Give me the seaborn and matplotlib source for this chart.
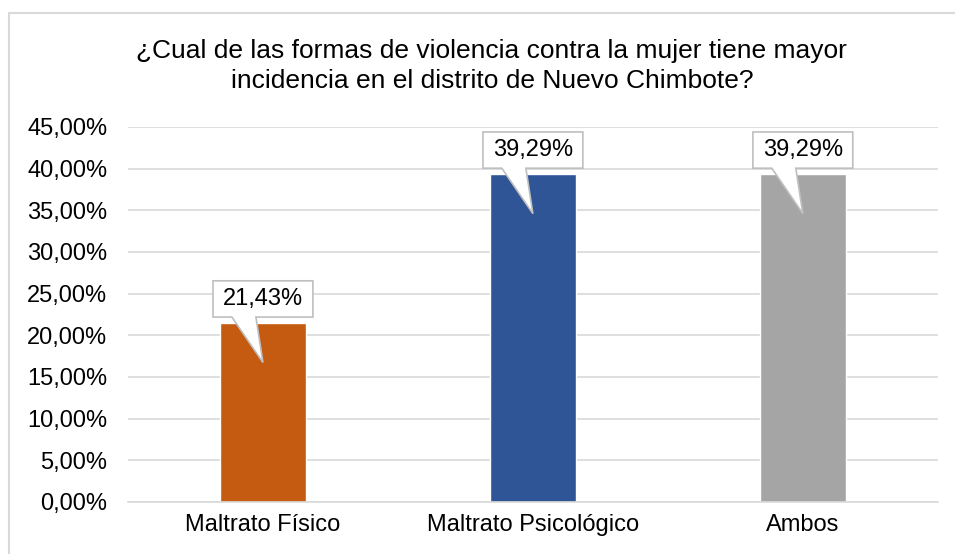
import matplotlib.pyplot as plt
import matplotlib.patches as mpatches
import numpy as np
import pandas as pd
import seaborn as sns
from matplotlib.ticker import FuncFormatter, MultipleLocator

categories = ["Maltrato Físico", "Maltrato Psicológico", "Ambos"]
values = [0.2143, 0.3929, 0.3929]
labels = ["21,43%", "39,29%", "39,29%"]
colors = ["#C55A11", "#2F5597", "#A5A5A5"]

title = "¿Cual de las formas de violencia contra la mujer tiene mayor\nincidencia en el distrito de Nuevo Chimbote?"

df = pd.DataFrame({"categoria": categories, "valor": values})

sns.set_theme(style="white")
plt.rcParams["font.family"] = ["Liberation Sans", "DejaVu Sans"]

fig = plt.figure(figsize=(9.55, 5.54), dpi=100)
ax = fig.add_axes([0.134, 0.094, 0.848, 0.677])

sns.barplot(
    data=df, x="categoria", y="valor", hue="categoria", palette=colors,
    width=0.318, legend=False, ax=ax, saturation=1,
)

ax.set_ylim(0, 0.45)
ax.set_xlim(-0.5, 2.5)
ax.yaxis.set_major_locator(MultipleLocator(0.05))
ax.yaxis.set_major_formatter(
    FuncFormatter(lambda v, _: f"{v * 100:.2f}%".replace(".", ","))
)
ax.grid(axis="y", color="#D9D9D9", linewidth=1.2)
ax.set_axisbelow(True)
for s in ["top", "right", "left"]:
    ax.spines[s].set_visible(False)
ax.spines["bottom"].set_color("#D9D9D9")
ax.spines["bottom"].set_linewidth(1.2)
ax.tick_params(axis="y", labelsize=17, colors="black", length=0, pad=15)
ax.tick_params(axis="x", labelsize=17, colors="black", length=0, pad=9)
ax.set(xlabel="", ylabel="")

# callouts
hw = 0.185
for i, (v, lab) in enumerate(zip(values, labels)):
    yb = v + 0.0075
    yt = v + 0.051
    tip = (i, v - 0.047)
    pts = [
        (i - hw, yb), (i - 0.115, yb), tip, (i - 0.026, yb),
        (i + hw, yb), (i + hw, yt), (i - hw, yt),
    ]
    poly = mpatches.Polygon(pts, closed=True, facecolor="white",
                            edgecolor="#BFBFBF", linewidth=1.2, zorder=5)
    ax.add_patch(poly)
    ax.text(i, (yb + yt) / 2, lab, ha="center", va="center",
            fontsize=17, color="black", zorder=6)

fig.text(0.515, 0.881, title, ha="center", va="center", fontsize=19,
         color="black", linespacing=1.35)

fig.patches.append(mpatches.Rectangle(
    (9 / 955, -0.1), 1.2, 1 - 13 / 554 + 0.1, transform=fig.transFigure,
    fill=False, edgecolor="#D9D9D9", linewidth=1.5, figure=fig))

fig.savefig("out.png", dpi=100)
